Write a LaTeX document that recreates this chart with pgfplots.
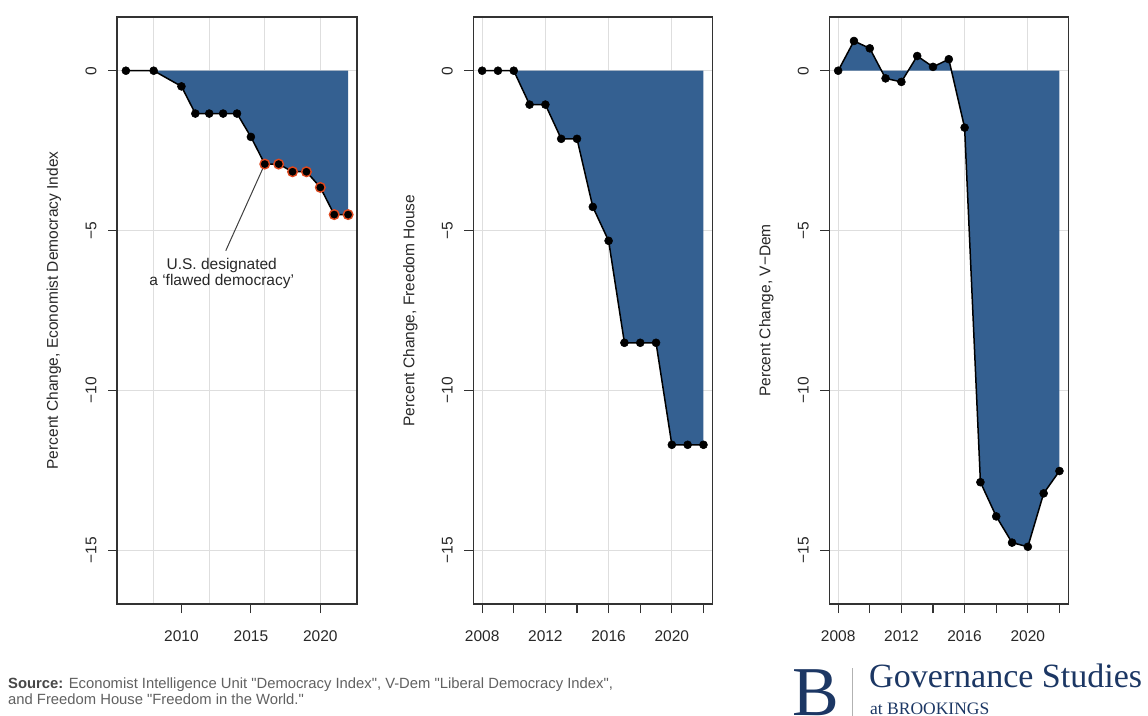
\documentclass[border=0pt]{standalone}
\usepackage{fontspec}
\setmainfont{Liberation Sans}
\newfontfamily\serifb{Liberation Serif}
\usepackage{pgfplots}
\pgfplotsset{compat=1.18}
\definecolor{fillblue}{RGB}{52,96,145}
\definecolor{navy}{RGB}{28,55,100}
\definecolor{hl}{RGB}{222,72,30}
\definecolor{framec}{RGB}{50,50,50}
\definecolor{gridc}{RGB}{222,222,222}
\definecolor{txt}{RGB}{40,40,40}

\pgfplotsset{
  panel/.style={
    scale only axis, height=587pt, anchor=north west,
    ymin=-16.68, ymax=1.68,
    ytick={-15,-10,-5,0}, yticklabels={−15,−10,−5,0},
    tick align=outside, xtick pos=left, ytick pos=left,
    major tick length=9pt, minor tick length=0pt,
    axis line style={framec, line width=1.4pt},
    major tick style={framec, line width=1.2pt},
    minor tick style={draw=none},
    ymajorgrids, xmajorgrids=false, xminorgrids,
    minor xtick={2008,2012,2016,2020},
    grid style={gridc, line width=1pt},
    minor grid style={gridc, line width=1pt},
    tick label style={font=\fontsize{15.5}{17}\selectfont, text=txt},
    yticklabel style={rotate=90, anchor=south},
    yticklabel shift=8pt,
    xticklabel shift=14pt,
    every axis y label/.style={at={(axis description cs:-0.263,0.5)}, rotate=90, anchor=center, font=\fontsize{15.5}{17}\selectfont, text=txt},
  },
  fillst/.style={draw=none, fill=fillblue},
  linest/.style={black, line width=1.5pt, mark=*, mark size=4pt, mark options={fill=black, draw=black, line width=0.5pt}},
}

\pgfplotstableread{
x y
2006 0
2008 0
2010 -0.49
2011 -1.34
2012 -1.34
2013 -1.34
2014 -1.34
2015 -2.07
2016 -2.92
2017 -2.92
2018 -3.16
2019 -3.16
2020 -3.65
2021 -4.50
2022 -4.50
}\eiu

\pgfplotstableread{
x y
2016 -2.92
2017 -2.92
2018 -3.16
2019 -3.16
2020 -3.65
2021 -4.50
2022 -4.50
}\eiuflawed

\pgfplotstableread{
x y
2008 0
2009 0
2010 0
2011 -1.06
2012 -1.06
2013 -2.13
2014 -2.13
2015 -4.26
2016 -5.32
2017 -8.51
2018 -8.51
2019 -8.51
2020 -11.70
2021 -11.70
2022 -11.70
}\fh

\pgfplotstableread{
x y
2008 0
2009 0.93
2010 0.70
2011 -0.24
2012 -0.35
2013 0.46
2014 0.12
2015 0.36
2016 -1.78
2017 -12.87
2018 -13.94
2019 -14.76
2020 -14.89
2021 -13.22
2022 -12.52
}\vdem

\begin{document}
\begin{tikzpicture}
\fill[white, use as bounding box] (0pt,0pt) rectangle (1148pt,-715pt);

% Panel 1
\begin{axis}[panel, at={(117pt,-17pt)}, width=240pt,
  xmin=2005.36, xmax=2022.64, xtick={2010,2015,2020},
  xticklabels={2010,2015,2020},
  ylabel={Percent Change, Economist Democracy Index}]
  \addplot[fillst] table {\eiu} \closedcycle;
  \addplot[linest] table {\eiu};
  \addplot[only marks, mark=*, mark size=4.8pt, mark options={fill=black, draw=hl, line width=1.4pt}] table {\eiuflawed};
  \draw[black!75, line width=1pt] (axis cs:2016,-2.92) -- (axis cs:2013.19,-5.63);
  \node[anchor=north, align=center, inner sep=0pt, font=\fontsize{15.5}{15.5}\selectfont, text=txt] at (axis cs:2012.9,-5.87) {U.S. designated\\a ‘flawed democracy’};
\end{axis}

% Panel 2
\begin{axis}[panel, at={(473.3pt,-17pt)}, width=239pt,
  xmin=2007.44, xmax=2022.56, xtick={2008,2010,...,2022},
  xticklabels={2008,,2012,,2016,,2020,},
  ylabel={Percent Change, Freedom House}]
  \addplot[fillst] table {\fh} \closedcycle;
  \addplot[linest] table {\fh};
\end{axis}

% Panel 3
\begin{axis}[panel, at={(829.3pt,-17pt)}, width=239pt,
  xmin=2007.44, xmax=2022.56, xtick={2008,2010,...,2022},
  xticklabels={2008,,2012,,2016,,2020,},
  ylabel={Percent Change, V−Dem}]
  \addplot[fillst] table {\vdem} \closedcycle;
  \addplot[linest] table {\vdem};
\end{axis}

% Source
\node[anchor=base west, inner sep=0pt, font=\fontsize{14.8}{16}\selectfont, text=black!62] at (8pt,-688.5pt)
  {\textbf{\color{black!72}Source:} Economist Intelligence Unit \textquotedbl Democracy Index\textquotedbl, V-Dem \textquotedbl Liberal Democracy Index\textquotedbl,};
\node[anchor=base west, inner sep=0pt, font=\fontsize{14.8}{16}\selectfont, text=black!62] at (8pt,-704.5pt)
  {and Freedom House \textquotedbl Freedom in the World.\textquotedbl};

% Logo
\node[anchor=base west, inner sep=0pt, font=\serifb\fontsize{70}{70}\selectfont, text=navy] at (792pt,-715pt) {B};
\draw[black!30, line width=1pt] (852pt,-668pt) -- (852pt,-716pt);
\node[anchor=base west, inner sep=0pt, font=\serifb\fontsize{34}{34}\selectfont, text=navy] at (869pt,-687pt) {Governance Studies};
\node[anchor=base west, inner sep=0pt, font=\serifb\fontsize{17.5}{17.5}\selectfont, text=navy] at (870pt,-714pt) {at BROOKINGS};
\end{tikzpicture}
\end{document}
